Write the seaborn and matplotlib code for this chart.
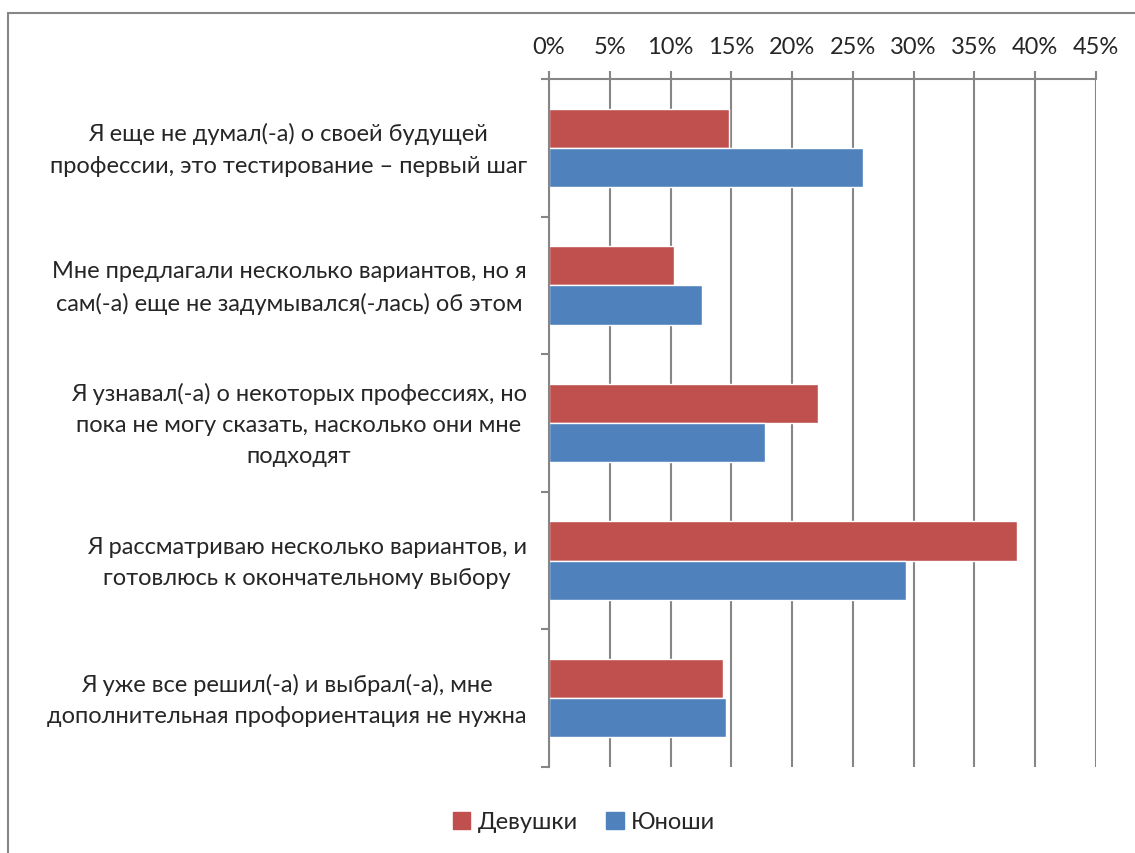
import pandas as pd
import matplotlib
matplotlib.use('Agg')
import matplotlib.pyplot as plt
import matplotlib.transforms as mtransforms
import seaborn as sns
from matplotlib.patches import Rectangle
from matplotlib.ticker import PercentFormatter, FixedLocator

# Data (shares of respondents, %)
categories = [
    "Я еще не думал(-а) о своей будущей\nпрофессии, это тестирование – первый шаг",
    "Мне предлагали несколько вариантов, но я\nсам(-а) еще не задумывался(-лась) об этом",
    "Я узнавал(-а) о некоторых профессиях, но\nпока не могу сказать, насколько они мне\nподходят",
    "Я рассматриваю несколько вариантов, и\nготовлюсь к окончательному выбору",
    "Я уже все решил(-а) и выбрал(-а), мне\nдополнительная профориентация не нужна",
]
girls = [14.8, 10.3, 22.1, 38.5, 14.3]
boys = [25.8, 12.6, 17.8, 29.4, 14.6]
series = ["Девушки", "Юноши"]
colors = ["#C0504D", "#4F81BD"]

df = pd.DataFrame({
    "category": categories * 2,
    "value": girls + boys,
    "group": [series[0]] * len(categories) + [series[1]] * len(categories),
})

sns.set_theme(style="white")
plt.rcParams['font.family'] = ['Lato', 'DejaVu Sans']
grid_col = "#868686"
fs = 17

fig = plt.figure(figsize=(11.35, 8.54), dpi=100)
ax = fig.add_axes([549 / 1135, 1 - 768 / 854, 547 / 1135, 688 / 854])

sns.barplot(data=df, y="category", x="value", hue="group", hue_order=series,
            palette=colors, orient="h", width=0.57, gap=0, saturation=1,
            ax=ax, legend=False)

# x axis on top
ax.set_xlim(0, 45)
ax.set_xticks(range(0, 50, 5))
ax.xaxis.set_major_formatter(PercentFormatter(decimals=0))
ax.xaxis.tick_top()
ax.xaxis.set_label_position("top")
ax.tick_params(axis="x", which="major", direction="out", length=6, width=1.5,
               color=grid_col, labelsize=fs, pad=10, top=True, bottom=False)
ax.grid(axis="x", color=grid_col, linewidth=1.5)
ax.set_axisbelow(True)

# y axis: centred multi-line labels, minor ticks between categories
ax.set_ylim(len(categories) - 0.5, -0.5)
ax.tick_params(axis="y", which="major", length=0, labelsize=fs, pad=16)
shift = mtransforms.ScaledTranslation(0, 6 / 100, fig.dpi_scale_trans)
for lbl in ax.get_yticklabels():
    lbl.set_multialignment("center")
    lbl.set_linespacing(1.6)
    lbl.set_transform(lbl.get_transform() + shift)
ax.yaxis.set_minor_locator(FixedLocator([i - 0.5 for i in range(len(categories) + 1)]))
ax.tick_params(axis="y", which="minor", left=True, direction="out", length=6,
               width=1.5, color=grid_col)

ax.set_xlabel("")
ax.set_ylabel("")
for side in ["right", "bottom"]:
    ax.spines[side].set_visible(False)
ax.spines["top"].set_color(grid_col)
ax.spines["top"].set_linewidth(1.5)
ax.spines["left"].set_color(grid_col)
ax.spines["left"].set_linewidth(1.5)

# legend
handles = [Rectangle((0, 0), 1, 1, color=c) for c in colors]
fig.legend(handles, series, loc="center", bbox_to_anchor=(584 / 1135, 1 - 823 / 854),
           ncol=2, frameon=False, fontsize=fs, handlelength=0.75, handleheight=0.75,
           handletextpad=0.3, columnspacing=1.2)

# outer chart border
fig.patches.append(Rectangle((8 / 1135, -0.01), 1.2, 1 - 14 / 854 + 0.01,
                             transform=fig.transFigure, fill=False,
                             edgecolor=grid_col, linewidth=1.5))

fig.savefig("out.png", dpi=100)
plt.close(fig)
